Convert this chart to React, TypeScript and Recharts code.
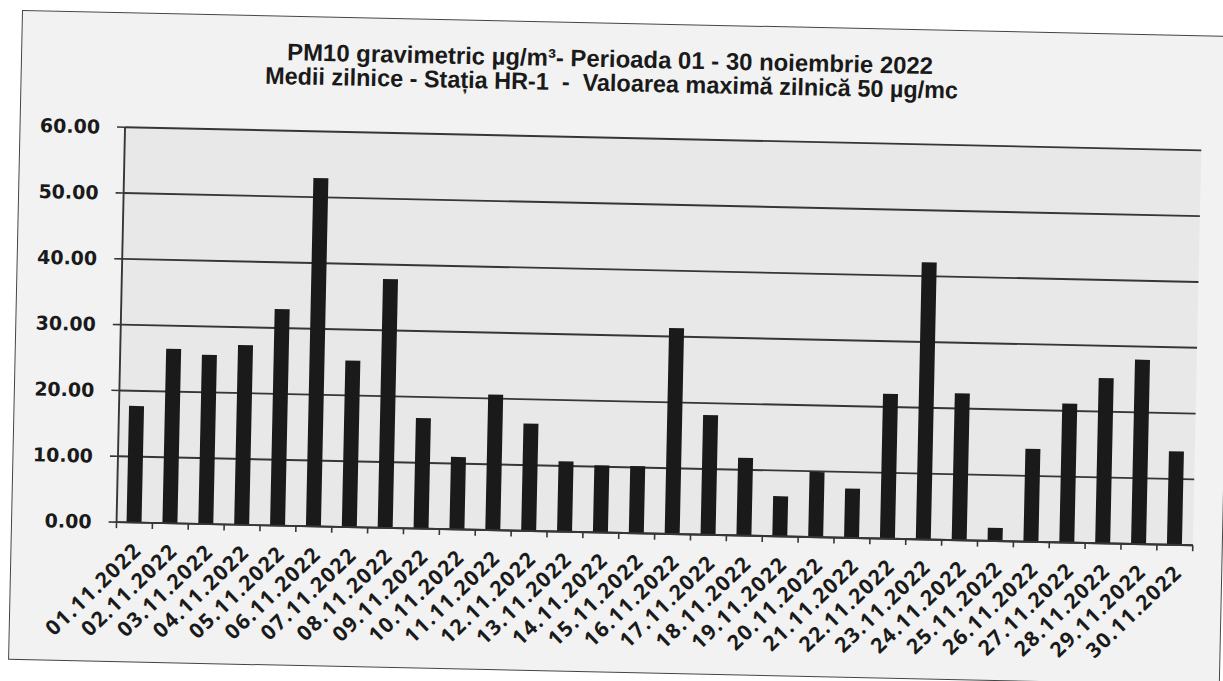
import React from 'react';
import { BarChart, Bar, XAxis, YAxis, CartesianGrid } from 'recharts';

const dates = [
  '01.11.2022', '02.11.2022', '03.11.2022', '04.11.2022', '05.11.2022',
  '06.11.2022', '07.11.2022', '08.11.2022', '09.11.2022', '10.11.2022',
  '11.11.2022', '12.11.2022', '13.11.2022', '14.11.2022', '15.11.2022',
  '16.11.2022', '17.11.2022', '18.11.2022', '19.11.2022', '20.11.2022',
  '21.11.2022', '22.11.2022', '23.11.2022', '24.11.2022', '25.11.2022',
  '26.11.2022', '27.11.2022', '28.11.2022', '29.11.2022', '30.11.2022',
];

const pm10 = [
  17.7, 26.5, 25.7, 27.3, 32.9, 52.9, 25.3, 37.8, 16.8, 11.0,
  20.6, 16.3, 10.7, 10.2, 10.2, 31.3, 18.2, 11.8, 6.1, 9.9,
  7.5, 22.0, 42.1, 22.3, 2.0, 14.1, 21.1, 25.1, 28.0, 14.2,
];

const yTicks = [0, 10, 20, 30, 40, 50, 60];

const titleLine1 = 'PM10 gravimetric µg/m³- Perioada 01 - 30 noiembrie 2022';
const titleLine2 = 'Medii zilnice - Stația HR-1  -  Valoarea maximă zilnică 50 µg/mc';

const data = dates.map((d, i) => ({ date: d, value: pm10[i] }));

const W = 1210;
const H = 648;
const PLOT_LEFT = 104.5;
const PLOT_RIGHT = 1181;
const PLOT_TOP = 114;
const PLOT_BOTTOM = 509;
const XAXIS_H = 128;
const BAND = (PLOT_RIGHT - PLOT_LEFT) / dates.length;

const INK = '#1a1a1a';
const LINE = '#363636';

const XTick = (props: any) => {
  const { x, y, payload, index } = props;
  const half = BAND / 2;
  const ax = x + 9;
  const ay = y + 29;
  return (
    <g>
      <line x1={x - half} x2={x - half} y1={y} y2={y + 6} stroke={LINE} strokeWidth={1.6} />
      {index === dates.length - 1 && (
        <line x1={x + half} x2={x + half} y1={y} y2={y + 6} stroke={LINE} strokeWidth={1.6} />
      )}
      <text
        x={ax}
        y={ay}
        textAnchor="end"
        transform={`rotate(-45, ${ax}, ${ay})`}
        fontFamily="'Open Sans', 'Noto Sans', sans-serif"
        fontWeight={700}
        fontSize={21}
        letterSpacing={1.5}
        fill={INK}
      >
        {payload.value}
      </text>
    </g>
  );
};

const titleFont = "'Liberation Sans Narrow', 'Arial Narrow', 'Liberation Sans', Arial, sans-serif";

export default function App() {
  return (
    <div
      style={{
        position: 'absolute',
        left: 23,
        top: 11,
        width: W,
        height: H,
        transformOrigin: '0 0',
        transform: 'rotate(1.23deg)',
        background: '#f2f2f2',
        outline: '1.5px solid #444',
      }}
    >
      <svg width={W} height={100} style={{ position: 'absolute', left: 0, top: 0 }}>
        <text
          x={588}
          y={43.5}
          textAnchor="middle"
          textLength={646}
          lengthAdjust="spacingAndGlyphs"
          fontFamily={titleFont}
          fontWeight={700}
          fontSize={24}
          fill={INK}
        >
          {titleLine1}
        </text>
        <text
          x={590}
          y={67.5}
          textAnchor="middle"
          textLength={693}
          lengthAdjust="spacingAndGlyphs"
          fontFamily={titleFont}
          fontWeight={700}
          fontSize={24}
          fill={INK}
          xmlSpace="preserve"
        >
          {titleLine2}
        </text>
      </svg>
      <div style={{ position: 'absolute', left: 0, top: 0 }}>
        <BarChart
          width={W}
          height={H}
          data={data}
          margin={{ top: PLOT_TOP, right: W - PLOT_RIGHT, left: 0, bottom: H - PLOT_BOTTOM - XAXIS_H }}
        >
          <CartesianGrid
            vertical={false}
            stroke={LINE}
            strokeWidth={1.9}
            fill="#e8e8e8"
            fillOpacity={1}
          />
          <XAxis
            dataKey="date"
            interval={0}
            height={XAXIS_H}
            tickSize={0}
            tickMargin={0}
            tickLine={false}
            axisLine={{ stroke: LINE, strokeWidth: 1.9 }}
            tick={<XTick />}
          />
          <YAxis
            type="number"
            domain={[0, 60]}
            ticks={yTicks}
            interval={0}
            width={PLOT_LEFT}
            tickSize={8}
            tickMargin={17}
            tickFormatter={(v: number) => v.toFixed(2)}
            tickLine={{ stroke: LINE, strokeWidth: 1.6 }}
            axisLine={{ stroke: LINE, strokeWidth: 1.9 }}
            tick={{ fontFamily: "'DejaVu Sans', sans-serif", fontWeight: 700, fontSize: 19, fill: INK }}
          />
          <Bar dataKey="value" fill={INK} barSize={15} isAnimationActive={false} />
        </BarChart>
      </div>
    </div>
  );
}
